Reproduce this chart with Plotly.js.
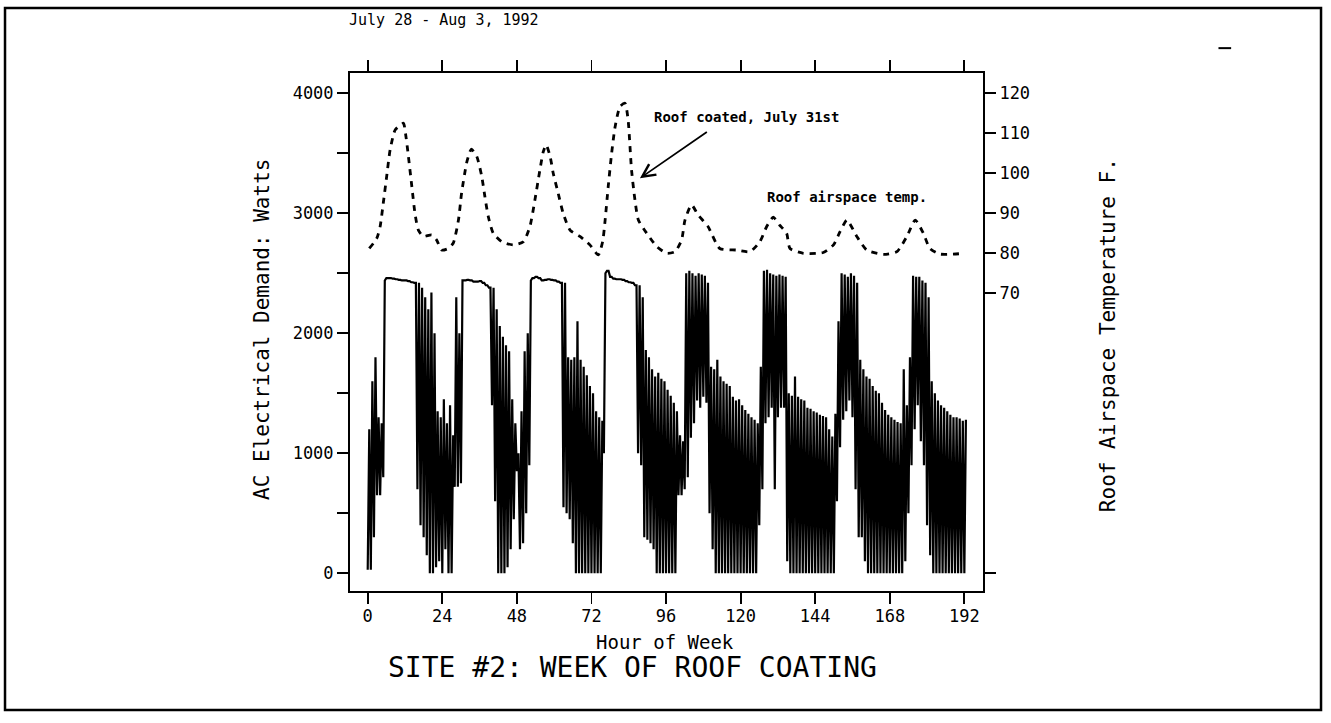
<!DOCTYPE html>
<html>
<head>
<meta charset="utf-8">
<script src="https://cdn.plot.ly/plotly-3.0.1.min.js"></script>
<style>html,body{margin:0;padding:0;background:#fff}#chart{width:1331px;height:723px}</style>
</head>
<body>
<div id="chart"></div>
<script>
// ---- Data ----
// Hour-of-week grid for the AC demand readings (hours 0..192)
const acHour = Array.from({length: 193}, (_, i) => i);
// AC electrical demand (W): lower and upper extent of the trace within each hour
const acLow = [
  30,30,300,650,650,800,2460,2460,2455,2450,2445,2440,2440,2435,2425,2420,700,400,300,150,0,0,50,100,
  0,200,0,0,720,720,750,2440,2445,2440,2430,2430,2435,2420,2400,2380,1400,600,0,0,0,50,200,450,
  850,200,250,500,900,2460,2470,2460,2440,2445,2450,2445,2440,2430,2420,550,500,450,250,0,0,0,0,0,
  0,0,0,0,1000,2520,2470,2455,2450,2450,2445,2435,2425,2420,2400,1000,900,300,280,250,200,0,0,0,
  0,0,0,0,650,650,700,800,1130,1250,1440,1380,1470,1420,500,200,0,0,0,0,0,0,0,0,
  0,0,0,0,0,0,400,700,1250,1300,1380,700,1300,1380,1380,100,0,0,0,0,0,0,0,0,
  0,0,0,0,0,0,0,600,1050,1280,1350,1440,1300,700,300,300,100,0,0,0,0,0,0,0,
  0,0,0,0,0,100,500,900,1200,1400,1100,900,400,150,0,0,0,0,0,0,0,0,0,0,
  0
];
const acHigh = [
  1200,1600,1800,1300,1250,2440,2460,2460,2455,2450,2445,2440,2440,2435,2425,2420,2420,2380,2300,2200,2340,2000,1350,1300,
  1450,1250,1400,1150,2300,2000,2440,2440,2445,2440,2430,2430,2435,2420,2400,2380,2380,2200,2060,1970,1900,1850,1450,1250,
  1000,1350,1850,2000,2440,2460,2470,2460,2440,2445,2450,2445,2440,2430,2420,2420,1800,1780,1800,2100,1780,1720,1650,1560,
  1500,1350,1300,1270,2500,2520,2470,2455,2450,2450,2445,2435,2425,2420,2400,2400,2300,1860,1800,1700,1640,1670,1620,1600,
  1530,1480,1420,1350,1150,1100,2500,2520,2500,2480,2500,2490,2480,2420,1720,1700,1780,1640,1600,1580,1560,1470,1440,1450,
  1400,1360,1330,1300,1280,1250,1720,2520,2530,2500,2490,2480,2490,2480,2470,1500,1480,1640,1470,1450,1440,1380,1370,1350,
  1340,1320,1310,1300,1200,1140,1330,2100,2500,2490,2470,2500,2480,2420,1780,1700,1640,1620,1560,1520,1500,1420,1360,1320,
  1300,1280,1260,1250,1700,1400,1800,2480,2470,2470,2440,2420,2300,1600,1500,1440,1400,1380,1350,1320,1300,1300,1290,1270,
  1280
];
// Roof airspace temperature (deg F) readings
const tempHour = [0.5,2.9,4,5,6.1,7.2,8.8,10.4,11.5,12.3,13.1,14.2,15.2,16.3,17.9,20.6,22.2,23.8,25.9,27.5,
  29.2,30.2,31.8,32.9,33.4,35.1,36.7,37.7,38.8,40.4,43.1,46.8,50.1,52.2,53.8,55.4,56.5,57.4,58.7,59.7,
  61.3,62.9,65.1,68.3,71.5,74.2,75.6,76.4,77.4,78.5,79.6,81.2,82.8,83.8,84.4,84.9,86,87.1,89.8,93,
  96.2,98.9,101,102.1,104.2,106.3,109.5,113.3,118.7,123,126.2,128.4,130.5,132.6,134.8,135.9,140.2,146.6,149.9,152,
  154.2,157.4,160.6,166,170.3,173.5,176.2,178.8,180.9,184.1,192.2];
const tempF = [81.2,83.7,86.7,92.5,99.2,105.8,110.8,112,112.5,109.2,104.2,96.7,90,85.8,84.2,84.6,83.3,80.8,81.2,82.5,
  88.3,95,102.5,105.4,106,104.2,99.2,94.2,89.2,85,82.9,82.1,82.9,86.7,93.3,100.8,105.4,107.1,104.2,100,
  95,90,85.8,84.2,82.1,79.6,82.9,88.3,96.7,105,111.6,116.7,117.5,113.3,106.7,100.8,93.3,88.3,85,81.7,
  80,80.4,83.3,88.3,92.1,89.6,86.7,81.2,80.8,80.4,82.9,86.7,89,87,85,81.2,80,80.2,82.1,85.4,
  88.3,84.2,80.8,79.7,80.4,84.2,88.3,85,81.2,79.8,80];

// Axis ticks / labels
const xTickVals = [0,24,48,72,96,120,144,168,192];
const xTickText = ['0','24','48','72','96','120','144','168','192'];
const yTickVals = [0,500,1000,1500,2000,2500,3000,3500,4000];
const yTickText = ['0','','1000','','2000','','3000','','4000'];
const y2TickVals = [0,70,80,90,100,110,120];
const y2TickText = ['','70','80','90','100','110','120'];

const titleText = 'SITE #2: WEEK OF ROOF COATING';
const xTitle = 'Hour of Week';
const yTitle = 'AC Electrical Demand: Watts';
const y2Title = 'Roof Airspace Temperature F.';
const dateText = 'July 28 - Aug 3, 1992';
const noteCoated = 'Roof coated, July 31st';
const noteTemp = 'Roof airspace temp.';

// ---- Build traces ----
const acX = [], acY = [];
acHour.forEach((h, i) => { acX.push(h, h + 0.5); acY.push(acLow[i], acHigh[i]); });

const FONT = 'DejaVu Sans Mono';
const traces = [
  {x: acX, y: acY, type: 'scatter', mode: 'lines', yaxis: 'y',
   line: {color: '#000', width: 2.2, simplify: false}, hoverinfo: 'skip'},
  {x: tempHour, y: tempF, type: 'scatter', mode: 'lines', yaxis: 'y2',
   line: {color: '#000', width: 2.8, dash: '6px,6px', shape: 'spline', smoothing: 0.6}, hoverinfo: 'skip'}
];

const axisCommon = {
  ticks: 'outside', ticklen: 11, tickwidth: 1.8, tickcolor: '#000',
  showline: true, linewidth: 2, linecolor: '#000', showgrid: false, zeroline: false,
  tickfont: {family: FONT, size: 17, color: '#000'}
};

const layout = {
  width: 1331, height: 723,
  margin: {l: 350, r: 348, t: 73, b: 132, pad: 0},
  paper_bgcolor: '#fff', plot_bgcolor: '#fff',
  showlegend: false,
  xaxis: Object.assign({}, axisCommon, {
    range: [-5.7, 198], tickmode: 'array', tickvals: xTickVals, ticktext: xTickText, mirror: 'ticks',
    ticklabelstandoff: -2
  }),
  yaxis: Object.assign({}, axisCommon, {
    range: [-148, 4169], tickmode: 'array', tickvals: yTickVals, ticktext: yTickText, mirror: false
  }),
  yaxis2: Object.assign({}, axisCommon, {
    range: [-4.44, 125.07], overlaying: 'y', side: 'right',
    tickmode: 'array', tickvals: y2TickVals, ticktext: y2TickText
  }),
  annotations: [
    {text: dateText, xref: 'paper', yref: 'paper', x: -0.004, y: 1.102, xanchor: 'left', yanchor: 'middle',
     showarrow: false, font: {family: FONT, size: 15, color: '#000'}},
    {text: titleText, xref: 'paper', yref: 'paper', x: 0.4455, y: -0.1486, xanchor: 'center', yanchor: 'middle',
     showarrow: false, font: {family: FONT, size: 28, color: '#000'}},
    {text: xTitle, xref: 'paper', yref: 'paper', x: 0.4976, y: -0.0975, xanchor: 'center', yanchor: 'middle',
     showarrow: false, font: {family: FONT, size: 19, color: '#000'}},
    {text: yTitle, xref: 'paper', yref: 'paper', x: -0.139, y: 0.504, xanchor: 'center', yanchor: 'middle',
     textangle: -90, showarrow: false, font: {family: FONT, size: 21, color: '#000'}},
    {text: y2Title, xref: 'paper', yref: 'paper', x: 1.1975, y: 0.494, xanchor: 'center', yanchor: 'middle',
     textangle: -90, showarrow: false, font: {family: FONT, size: 21, color: '#000'}},
    {text: '<b>' + noteCoated + '</b>', xref: 'x', yref: 'y', x: 91.5, y: 3802, xanchor: 'left', yanchor: 'middle',
     showarrow: false, font: {family: FONT, size: 14, color: '#000'}},
    {text: '<b>' + noteTemp + '</b>', xref: 'x', yref: 'y', x: 127.8, y: 3138, xanchor: 'left', yanchor: 'middle',
     showarrow: false, font: {family: FONT, size: 14, color: '#000'}},
    {text: ' ', xref: 'x', yref: 'y', x: 87.6, y: 3292, axref: 'x', ayref: 'y', ax: 110.1, ay: 3694,
     showarrow: true, arrowhead: 5, arrowsize: 1.4, arrowwidth: 1.8, arrowcolor: '#000', standoff: 0}
  ],
  shapes: [
    {type: 'rect', xref: 'paper', yref: 'paper', x0: -0.545, x1: 1.534, y0: -0.2297, y1: 1.1255,
     line: {color: '#000', width: 2.5}, fillcolor: 'rgba(0,0,0,0)', layer: 'above'},
    {type: 'line', xref: 'paper', yref: 'paper', x0: 1.372, x1: 1.392, y0: 1.048, y1: 1.048,
     line: {color: '#000', width: 2}}
  ]
};

Plotly.newPlot('chart', traces, layout, {staticPlot: true, displayModeBar: false});
</script>
</body>
</html>
